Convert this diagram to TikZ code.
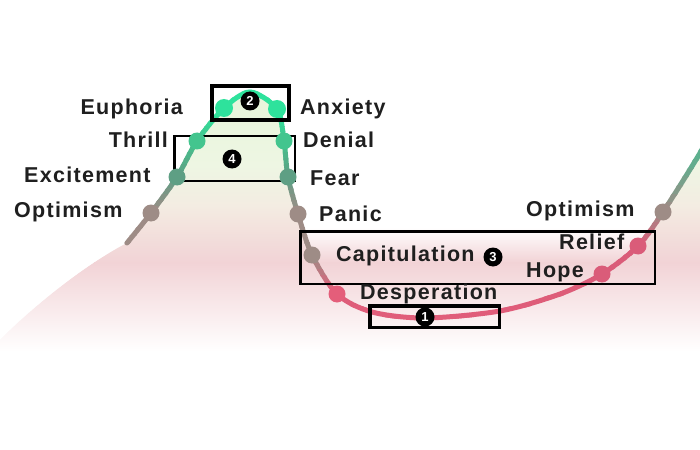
\documentclass[tikz,border=0pt]{standalone}
\usepackage{fontspec}
\setmainfont{Liberation Sans}
\newfontfamily\labfont[LetterSpace=6]{Liberation Sans}
\usetikzlibrary{calc}
\definecolor{gA}{HTML}{2EE29C}
\definecolor{gB}{HTML}{43C58E}
\definecolor{gC}{HTML}{5E9F84}
\definecolor{brn}{HTML}{9E8C86}
\definecolor{pnk}{HTML}{E45E7A}
\definecolor{pnkB}{HTML}{DA5C79}
\definecolor{gR}{HTML}{5DB08E}
\definecolor{txt}{HTML}{1F1F1F}
\definecolor{bgA}{HTML}{E6F5DA}
\definecolor{bgB}{HTML}{EEF6E3}
\definecolor{bgC}{HTML}{F3ECE2}
\definecolor{bgD}{HTML}{F2D3D6}
\newcommand\mycurve[1]{\draw[line width=5pt,line cap=round,#1] plot[smooth,tension=0.5] coordinates {(s0) (op1) (ex) (th) (eu) (pk) (an) (de) (fe) (pa) (ca) (ds) (v1) (bt) (v2) (v3) (ho) (re) (op2) (e1) (e2)};}
\tikzset{
  dot/.style={circle,inner sep=0pt,minimum size=17pt},
  lab/.style={text=txt,inner sep=0pt,font=\labfont\bfseries\fontsize{21.5}{24}\selectfont},
  badge/.style={circle,fill=black,text=white,inner sep=0pt,minimum size=19pt,font=\bfseries\fontsize{13}{13}\selectfont},
  frame/.style={draw=black,inner sep=0pt}
}
\begin{document}
\begin{tikzpicture}[x=1pt,y=-1pt]
\useasboundingbox (0,0) rectangle (700,449);
\fill[white] (0,0) rectangle (700,449);
% curve points
\coordinate (s0) at (127,243);
\coordinate (op1) at (151,213);
\coordinate (ex) at (177,177);
\coordinate (th) at (197,141);
\coordinate (eu) at (224,108);
\coordinate (pk) at (250,92);
\coordinate (an) at (277,109);
\coordinate (de) at (284,141);
\coordinate (fe) at (288,177);
\coordinate (pa) at (298,214);
\coordinate (ca) at (312,255);
\coordinate (ds) at (337,294);
\coordinate (v1) at (372,312);
\coordinate (bt) at (425,318);
\coordinate (v2) at (500,311);
\coordinate (v3) at (560,294);
\coordinate (ho) at (602,274);
\coordinate (re) at (638,246);
\coordinate (op2) at (663,212);
\coordinate (e1) at (700,153);
\coordinate (e2) at (712,128);
% background band
\begin{scope}
\clip (0,352) -- (0,340) .. controls (30,310) and (80,268) .. (s0) -- (135,228) -- (712,228) -- (712,352) -- cycle;
\shade[top color=white,bottom color=bgD] (0,227.5) rectangle (712,262.5);
\shade[top color=bgD,bottom color=white] (0,262) rectangle (712,352);
\end{scope}
% background under curve
\begin{scope}
\clip (0,352) -- (0,340) .. controls (30,310) and (80,268) .. (s0) -- plot[smooth,tension=0.5] coordinates {(s0) (op1) (ex) (th) (eu) (pk) (an) (de) (fe) (pa) (ca) (ds) (v1) (bt) (v2) (v3) (ho) (re) (op2) (e1) (e2)} -- (712,352) -- cycle;
\shade[top color=bgA,bottom color=bgB] (0,85) rectangle (712,165.5);
\shade[top color=bgB,bottom color=bgC] (0,165) rectangle (712,205.5);
\shade[top color=bgC,bottom color=bgD] (0,205) rectangle (712,262.5);
\shade[top color=bgD,bottom color=white] (0,262) rectangle (712,352);
\end{scope}
% curve, left part
\foreach \ya/\yb/\ca/\cb in {70/112/gA/gA,112/141/gA/gB,141/177/gB/gC,177/213/gC/brn,213/258/brn/brn,258/294/brn/pnk,294/340/pnk/pnk}{
  \foreach \k in {0,...,5}{
    \pgfmathsetmacro\yl{\ya+(\yb-\ya)*\k/6-0.4}
    \pgfmathsetmacro\yh{\ya+(\yb-\ya)*(\k+1)/6+0.4}
    \pgfmathsetmacro\pc{100*(\k+0.5)/6}
    \colorlet{tmpc}{\cb!\pc!\ca}
    \begin{scope}
      \clip (100,\yl) rectangle (337,\yh);
      \mycurve{tmpc}
    \end{scope}
  }
}
% curve, right part
\foreach \ya/\yb/\ca/\cb in {100/160/gR/gR,160/212/gR/brn,212/246/brn/pnkB,246/274/pnkB/pnkB,274/340/pnkB/pnk}{
  \foreach \k in {0,...,5}{
    \pgfmathsetmacro\yl{\ya+(\yb-\ya)*\k/6-0.4}
    \pgfmathsetmacro\yh{\ya+(\yb-\ya)*(\k+1)/6+0.4}
    \pgfmathsetmacro\pc{100*(\k+0.5)/6}
    \colorlet{tmpc}{\cb!\pc!\ca}
    \begin{scope}
      \clip (337,\yl) rectangle (720,\yh);
      \mycurve{tmpc}
    \end{scope}
  }
}
% frames
\node[frame,line width=4pt,minimum width=77pt,minimum height=34pt] (f2) at (250.5,103) {};
\node[frame,line width=2.5pt,minimum width=120.5pt,minimum height=44.5pt] (f4) at (234.5,158.5) {};
\node[frame,line width=2.5pt,minimum width=354.5pt,minimum height=52.5pt] (f3) at (477.5,257.5) {};
\node[frame,line width=3.5pt,minimum width=129.5pt,minimum height=21.5pt] (f1) at (434.5,316.5) {};
% dots
\node[dot,fill=brn] (dOp1) at (op1) {};
\node[dot,fill=gC] (dEx) at (ex) {};
\node[dot,fill=gB] (dTh) at (th) {};
\node[dot,fill=gA,minimum size=18pt] (dEu) at (eu) {};
\node[dot,fill=gA,minimum size=18pt] (dAn) at (an) {};
\node[dot,fill=gB] (dDe) at (de) {};
\node[dot,fill=gC] (dFe) at (fe) {};
\node[dot,fill=brn] (dPa) at (pa) {};
\node[dot,fill=brn] (dCa) at (ca) {};
\node[dot,fill=pnk] (dDs) at (ds) {};
\node[dot,fill=pnkB] (dHo) at (ho) {};
\node[dot,fill=pnkB] (dRe) at (re) {};
\node[dot,fill=brn] (dOp2) at (op2) {};
% badges
\node[badge] (b2) at (250,101) {2};
\node[badge] (b4) at (232,159) {4};
\node[badge] (b3) at (493,257) {3};
\node[badge] (b1) at (425,317) {1};
% labels
\node[lab,anchor=base east] (lEu) at (183,115) {Euphoria};
\node[lab,anchor=base east] (lTh) at (168,147) {Thrill};
\node[lab,anchor=base west] (lEx) at (24,182) {Excitement};
\node[lab,anchor=base west] (lOp1) at (14,217) {Optimism};
\node[lab,anchor=base west] (lAn) at (300,115) {Anxiety};
\node[lab,anchor=base west] (lDe) at (303,147) {Denial};
\node[lab,anchor=base west] (lFe) at (310,185) {Fear};
\node[lab,anchor=base west] (lPa) at (319,221) {Panic};
\node[lab,anchor=base west] (lCa) at (336,261) {Capitulation};
\node[lab,anchor=base west] (lDs) at (360,299) {Desperation};
\node[lab,anchor=base west] (lOp2) at (526,216) {Optimism};
\node[lab,anchor=base west] (lRe) at (559,249) {Relief};
\node[lab,anchor=base west] (lHo) at (526,277) {Hope};
\end{tikzpicture}
\end{document}
